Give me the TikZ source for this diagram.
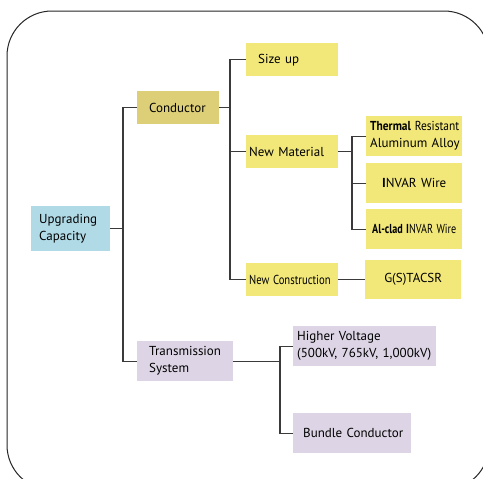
\documentclass[tikz,border=0pt]{standalone}
\usepackage{fontspec}
\usepackage{graphicx}
\setmainfont{PT Sans}
\definecolor{cblue}{HTML}{B1DAE7}
\definecolor{ckhaki}{HTML}{DDCF77}
\definecolor{cyellow}{HTML}{F2E87A}
\definecolor{clav}{HTML}{DDD5E5}
\definecolor{cline}{HTML}{3A3A3A}
\tikzset{
  box/.style={rectangle, inner ysep=0pt, anchor=north west, font=\fontsize{13}{17}\selectfont, text=black},
  conn/.style={draw=cline, line width=1.2pt},
}
\begin{document}
\begin{tikzpicture}[x=1pt,y=-1pt]
\clip (0,0) rectangle (483,479);
\fill[white] (0,0) rectangle (483,479);
\draw[line width=1pt, black!85, rounded corners=45pt] (7,11) rectangle (489,490);

% boxes
\node[box, fill=cblue, minimum width=79pt, minimum height=45pt, text width=67pt, inner xsep=6pt, align=left] (upg) at (31,206) {\hspace*{2pt}Upgrading\\\hspace*{2pt}Capacity};
\node[box, fill=ckhaki, minimum width=82pt, minimum height=33pt, text width=70pt, inner xsep=6pt, align=left] (cond) at (137,91) {\hspace*{6pt}Conductor};
\node[box, fill=cyellow, minimum width=92pt, minimum height=33pt, text width=80pt, inner xsep=6pt, align=left] (size) at (246,43) {\hspace*{6pt}Size up};
\node[box, fill=cyellow, minimum width=92pt, minimum height=33pt, text width=88pt, inner xsep=2pt, align=left] (nmat) at (246,135) {\hspace*{1pt}New Material};
\node[box, fill=cyellow, minimum width=92pt, minimum height=33pt, text width=88pt, inner xsep=2pt, align=left] (ncons) at (246,263) {\hspace*{1pt}\scalebox{0.82}[1]{New Construction}};
\node[box, fill=cyellow, minimum width=96pt, minimum height=40pt, text width=92pt, inner xsep=2pt, align=left] (therm) at (366,116) {\hspace*{2pt}\scalebox{0.88}[1]{{\bfseries Thermal} Resistant}\\\hspace*{2pt}Aluminum Alloy};
\node[box, fill=cyellow, minimum width=96pt, minimum height=40pt, text width=92pt, inner xsep=2pt, align=center] (invar) at (366,163) {{\bfseries I}NVAR Wire};
\node[box, fill=cyellow, minimum width=96pt, minimum height=40pt, text width=92pt, inner xsep=2pt, align=center] (alclad) at (366,209) {\scalebox{0.78}[1]{{\bfseries Al-clad I}NVAR Wire}};
\node[box, fill=cyellow, minimum width=96pt, minimum height=39pt, text width=92pt, inner xsep=2pt, align=center] (gs) at (365,260) {G(S)TACSR};
\node[box, fill=clav, minimum width=96pt, minimum height=40pt, text width=84pt, inner xsep=6pt, align=left] (trans) at (137,341) {\hspace*{6pt}Transmission\\\hspace*{6pt}System};
\node[box, fill=clav, minimum width=143pt, minimum height=40pt, text width=137pt, inner xsep=3pt, align=left] (hv) at (293,326) {\hspace*{1pt}Higher Voltage\\\hspace*{1pt}(500kV, 765kV, 1,000kV)};
\node[box, fill=clav, minimum width=118pt, minimum height=40pt, text width=108pt, inner xsep=5pt, align=left] (bc) at (293,413) {\hspace*{5pt}Bundle Conductor};

% trunk coordinates
\coordinate (t1) at (123,0);
\coordinate (t2) at (230,0);
\coordinate (t3) at (352,0);
\coordinate (t4) at (280,0);

\draw[conn] (cond.west) -- (cond.west -| t1) |- (trans.west);
\draw[conn] (upg.east) -- (upg.east -| t1);

\draw[conn] (size.west) -- (size.west -| t2) |- (ncons.west);
\draw[conn] (cond.east) -- (cond.east -| t2);
\draw[conn] (nmat.west) -- (nmat.west -| t2);

\draw[conn] (therm.west) -- (therm.west -| t3) |- (alclad.west);
\draw[conn] (nmat.east) -- (nmat.east -| t3);
\draw[conn] (invar.west) -- (invar.west -| t3);

\draw[conn] (ncons.east) -- (gs.west);

\draw[conn] (hv.west) -- (hv.west -| t4) |- (bc.west);
\draw[conn] (trans.east) -- (trans.east -| t4);
\end{tikzpicture}
\end{document}
